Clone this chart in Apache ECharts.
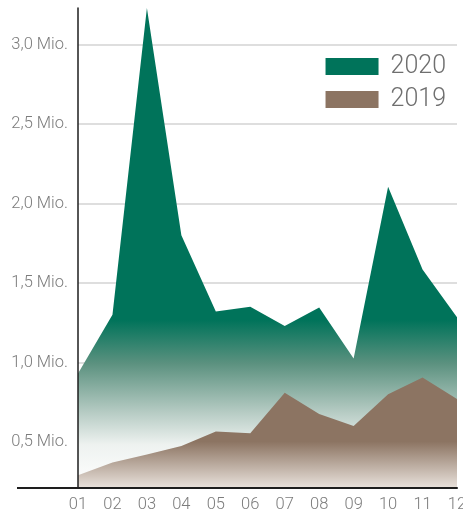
<!DOCTYPE html>
<html>
<head>
<meta charset="utf-8">
<script src="https://cdn.jsdelivr.net/npm/echarts@6/dist/echarts.min.js"></script>
<style>
  html, body { margin: 0; padding: 0; background: #fff; }
  #chart { width: 463px; height: 513px; }
</style>
</head>
<body>
<div id="chart"></div>
<script>
var months = ['01', '02', '03', '04', '05', '06', '07', '08', '09', '10', '11', '12'];
var values2020 = [0.93, 1.30, 3.23, 1.80, 1.32, 1.35, 1.23, 1.345, 1.025, 2.105, 1.585, 1.285];
var values2019 = [0.29, 0.37, 0.42, 0.475, 0.565, 0.555, 0.81, 0.675, 0.60, 0.80, 0.905, 0.77];

var green = '#00735a';
var brown = '#8c7462';
var labelColor = '#7c7c7c';

var chart = echarts.init(document.getElementById('chart'));

// green stays solid in its upper part, then washes out to white
var greenFill = new echarts.graphic.LinearGradient(0, 0, 0, 1, [
  { offset: 0, color: green },
  { offset: 0.65, color: green },
  { offset: 0.74, color: '#5b917f' },
  { offset: 0.84, color: '#b4cac2' },
  { offset: 0.91, color: '#eef2f0' },
  { offset: 1, color: '#ffffff' }
]);
var brownFill = new echarts.graphic.LinearGradient(0, 0, 0, 1, [
  { offset: 0, color: brown },
  { offset: 0.58, color: brown },
  { offset: 1, color: '#e9e2dc' }
]);

chart.setOption({
  animation: false,
  backgroundColor: '#fff',
  grid: { left: 78, right: 6, top: 8, bottom: 25, outerBoundsMode: 'none' },
  legend: {
    orient: 'vertical',
    right: 12,
    top: 49,
    icon: 'rect',
    itemWidth: 53,
    itemHeight: 17,
    itemGap: 8,
    data: ['2020', '2019'],
    textStyle: { fontFamily: 'Roboto', fontSize: 25, fontWeight: 300, color: '#6f6f6f', padding: [0, 0, 0, 7] }
  },
  xAxis: {
    type: 'category',
    boundaryGap: false,
    data: months,
    z: 4,
    axisLine: { lineStyle: { color: '#1e1e1e', width: 2 } },
    axisTick: { show: false },
    axisLabel: { fontFamily: 'Roboto', fontSize: 16.5, fontWeight: 300, color: labelColor, margin: 8 },
    splitLine: { show: false }
  },
  yAxis: {
    type: 'value',
    min: 0.21,
    max: 3.23,
    splitNumber: 6,
    z: 3,
    axisLine: { show: true, lineStyle: { color: '#1e1e1e', width: 1.5 } },
    axisTick: { show: false },
    axisLabel: {
      fontFamily: 'Roboto', fontSize: 16.5, fontWeight: 300, color: labelColor, margin: 10,
      showMinLabel: false, showMaxLabel: false,
      formatter: function (v) { return v.toFixed(1).replace('.', ',') + ' Mio.'; }
    },
    splitLine: { showMinLine: false, showMaxLine: false, lineStyle: { color: '#dedede', width: 2 } }
  },
  graphic: [{
    type: 'line',
    shape: { x1: 17, y1: 488, x2: 79, y2: 488 },
    style: { stroke: '#1e1e1e', lineWidth: 2 },
    z: 5
  }],
  series: [{
    name: '2020',
    type: 'line',
    data: values2020,
    symbol: 'none',
    itemStyle: { color: green },
    lineStyle: { width: 0, color: green },
    areaStyle: { opacity: 1, color: greenFill }
  }, {
    name: '2019',
    type: 'line',
    data: values2019,
    symbol: 'none',
    itemStyle: { color: brown },
    lineStyle: { width: 0, color: brown },
    areaStyle: { opacity: 1, color: brownFill }
  }]
});
</script>
</body>
</html>
